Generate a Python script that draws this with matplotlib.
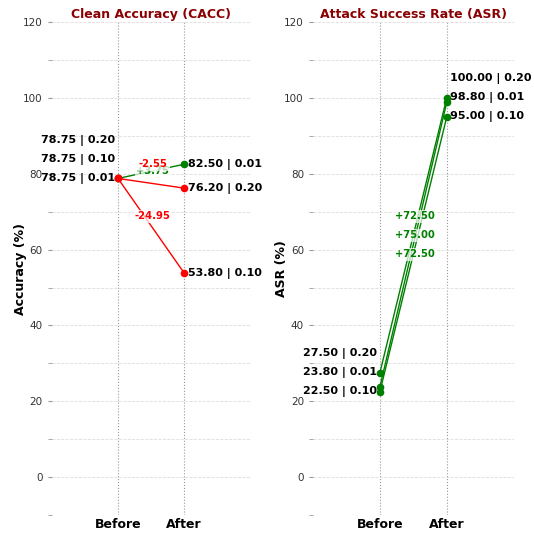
import numpy as np
import matplotlib.pyplot as plt

# 数据
eps = ['0.01', '0.10', '0.20']
cacc_before = [78.75, 78.75, 78.75]
cacc_after = [82.50, 53.80, 76.20]
asr_before = [23.80, 22.50, 27.50]
asr_after = [98.80, 95.00, 100.00]

stages = ['Before', 'After']
gap = 5.0


def spread(vals):
    # 标签位置去重叠：按数值排序，最小间隔 gap
    order = sorted(range(len(vals)), key=lambda i: vals[i])
    pos = [0.0] * len(vals)
    last = None
    for i in order:
        y = vals[i] if last is None else max(vals[i], last + gap)
        pos[i] = y
        last = y
    return pos


def draw(ax, before, after, title, ylabel):
    ax.set_xlim(-1, 2)
    ax.set_ylim(-10, 120)
    ax.set_yticks(np.arange(0, 121, 20))
    ax.set_yticks(np.arange(-10, 121, 20), minor=True)
    ax.grid(axis='y', which='both', linestyle='--', color='#dddddd', linewidth=0.6)
    for x in [0, 1]:
        ax.axvline(x, color='#999999', linestyle=':', linewidth=0.8, zorder=1)
    for s in ax.spines.values():
        s.set_visible(False)
    ax.tick_params(axis='y', which='both', colors='#999999', labelcolor='#333333', labelsize=7.5, length=3)
    ax.tick_params(axis='x', length=0, pad=2)
    ax.set_xticks([0, 1])
    ax.set_xticklabels(stages, fontweight='bold', fontsize=9)
    ax.set_title(title, color='darkred', fontweight='bold', fontsize=9, pad=3)
    ax.set_ylabel(ylabel, fontweight='bold', fontsize=9, labelpad=-3)

    pb = spread(before)
    pa = spread(after)
    for i in range(len(eps)):
        d = after[i] - before[i]
        c = 'green' if d >= 0 else 'red'
        ax.plot([0, 1], [before[i], after[i]], color=c, linewidth=1, marker='o', markersize=4.5, zorder=3)
        ax.text(-0.04, pb[i], f'{before[i]:.2f} | {eps[i]}', ha='right', va='center',
                fontsize=8, fontweight='bold', zorder=4)
        ax.text(1.05, pa[i], f'{after[i]:.2f} | {eps[i]}', ha='left', va='center',
                fontsize=8, fontweight='bold', zorder=4)
        ax.text(0.52, (pb[i] + pa[i]) / 2, f'{d:+.2f}', ha='center', va='center',
                fontsize=7.2, fontweight='bold', color=c, zorder=5,
                bbox=dict(facecolor='white', edgecolor='none', alpha=0.7, pad=1))


fig = plt.figure(figsize=(5.34, 5.35), dpi=100)
ax1 = fig.add_axes([0.097, 0.037, 0.372, 0.922])
ax2 = fig.add_axes([0.586, 0.037, 0.376, 0.922])
draw(ax1, cacc_before, cacc_after, 'Clean Accuracy (CACC)', 'Accuracy (%)')
draw(ax2, asr_before, asr_after, 'Attack Success Rate (ASR)', 'ASR (%)')

plt.savefig('out.png', dpi=100)
